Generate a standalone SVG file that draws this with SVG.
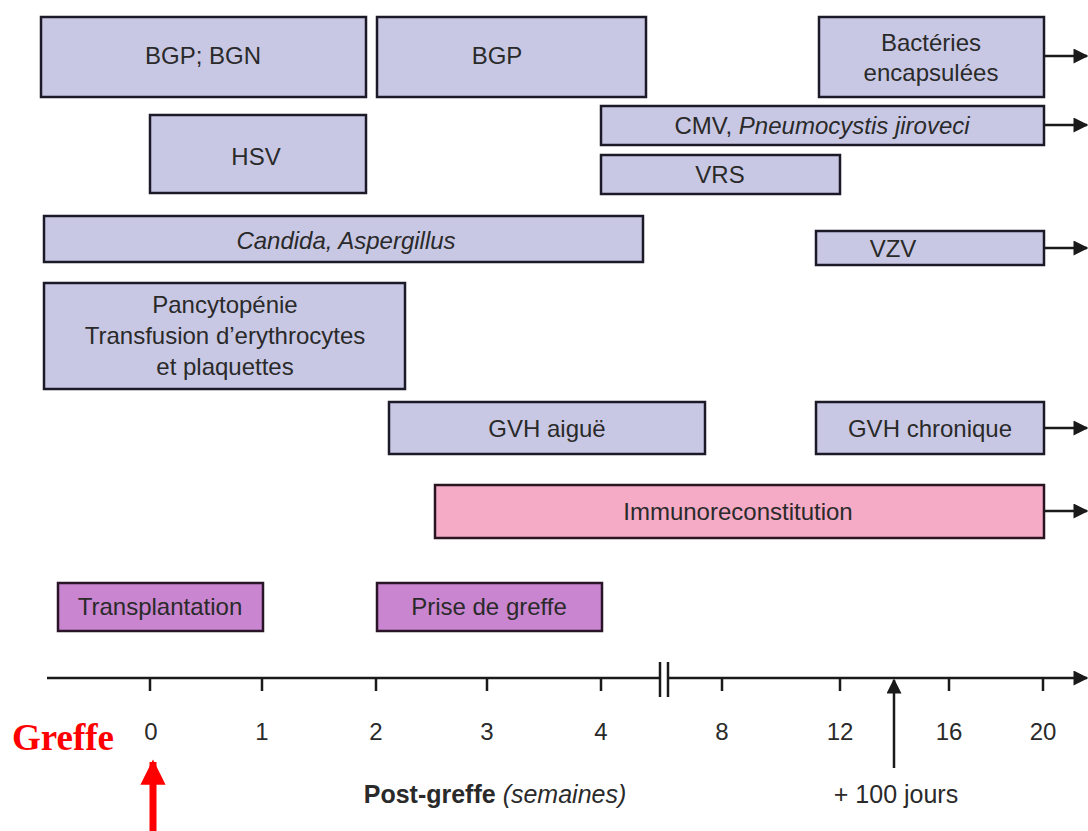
<svg xmlns="http://www.w3.org/2000/svg" width="1088" height="831" viewBox="0 0 1088 831">
<defs>
<style>
.box{fill:#c9c8e4;stroke:#1c1a28;stroke-width:2.5}
.pink{fill:#f5aac6;stroke:#2a1420;stroke-width:2.5}
.purple{fill:#c985cf;stroke:#2a1428;stroke-width:2.5}
.t{font-family:"Liberation Sans",Arial,sans-serif;font-size:24px;fill:#2a2a2a;text-anchor:middle}
.i{font-style:italic}
.ax{stroke:#1a1a1a;stroke-width:2.5;fill:none}
.tk{font-family:"Liberation Sans",Arial,sans-serif;font-size:24px;fill:#2a2a2a;text-anchor:middle}
</style>
<marker id="ah" viewBox="0 0 10 10" refX="9" refY="5" markerWidth="6.5" markerHeight="6" orient="auto" markerUnits="strokeWidth">
<path d="M0,0 L10,5 L0,10 z" fill="#1a1a1a"/>
</marker>
<marker id="rh" viewBox="0 0 10 10" refX="9" refY="5" markerWidth="4.2" markerHeight="3.6" orient="auto" markerUnits="strokeWidth">
<path d="M0,0 L10,5 L0,10 z" fill="#ff0000"/>
</marker>
</defs>
<rect width="1088" height="831" fill="#ffffff"/>
<g id="bgp-bgn"><rect class="box" x="41" y="17" width="325" height="80"/><text class="t" x="203" y="64">BGP; BGN</text></g>
<g id="bgp"><rect class="box" x="377" y="17" width="269" height="80"/><text class="t" x="497" y="64">BGP</text></g>
<g id="bacteries"><rect class="box" x="819" y="17" width="225" height="80"/><text class="t" x="931" y="51">Bactéries</text><text class="t" x="931" y="81">encapsulées</text></g>
<g id="hsv"><rect class="box" x="150" y="115" width="216" height="78"/><text class="t" x="256" y="165">HSV</text></g>
<g id="cmv"><rect class="box" x="601" y="106" width="443" height="39"/><text class="t" x="822" y="134">CMV, <tspan class="i">Pneumocystis jiroveci</tspan></text></g>
<g id="vrs"><rect class="box" x="601" y="155" width="239" height="39"/><text class="t" x="720" y="183">VRS</text></g>
<g id="candida"><rect class="box" x="44" y="216" width="599" height="46"/><text class="t i" x="346" y="249">Candida, Aspergillus</text></g>
<g id="vzv"><rect class="box" x="816" y="231" width="228" height="34"/><text class="t" x="893" y="257">VZV</text></g>
<g id="pancytopenie"><rect class="box" x="44" y="283" width="361" height="106"/><text class="t" x="225" y="313">Pancytopénie</text><text class="t" x="225" y="344">Transfusion d’erythrocytes</text><text class="t" x="225" y="375">et plaquettes</text></g>
<g id="gvh-aigue"><rect class="box" x="389" y="402" width="316" height="52"/><text class="t" x="547" y="437">GVH aiguë</text></g>
<g id="gvh-chronique"><rect class="box" x="816" y="402" width="228" height="52"/><text class="t" x="930" y="437">GVH chronique</text></g>
<g id="immuno"><rect class="pink" x="435" y="485" width="609" height="53"/><text class="t" x="738" y="520">Immunoreconstitution</text></g>
<g id="transplantation"><rect class="purple" x="58" y="583" width="205" height="48"/><text class="t" x="160" y="615">Transplantation</text></g>
<g id="prise"><rect class="purple" x="377" y="583" width="225" height="48"/><text class="t" x="489" y="615">Prise de greffe</text></g>
<g id="connectors">
<line class="ax" x1="1044" y1="56" x2="1087" y2="56" marker-end="url(#ah)"/>
<line class="ax" x1="1044" y1="125" x2="1087" y2="125" marker-end="url(#ah)"/>
<line class="ax" x1="1044" y1="248" x2="1087" y2="248" marker-end="url(#ah)"/>
<line class="ax" x1="1044" y1="428" x2="1087" y2="428" marker-end="url(#ah)"/>
<line class="ax" x1="1044" y1="511" x2="1087" y2="511" marker-end="url(#ah)"/>
</g>
<g id="axis">
<line class="ax" x1="47" y1="678" x2="660" y2="678"/>
<line class="ax" x1="668" y1="678" x2="1087" y2="678" marker-end="url(#ah)"/>
<line class="ax" x1="660" y1="662" x2="660" y2="697"/>
<line class="ax" x1="668" y1="662" x2="668" y2="697"/>
<path class="ax" d="M150,678V691M262,678V691M376,678V691M487,678V691M601,678V691M722,678V691M840,678V691M949,678V691M1043,678V691"/>
<text class="tk" x="151" y="740">0</text>
<text class="tk" x="262" y="740">1</text>
<text class="tk" x="376" y="740">2</text>
<text class="tk" x="487" y="740">3</text>
<text class="tk" x="601" y="740">4</text>
<text class="tk" x="722" y="740">8</text>
<text class="tk" x="840" y="740">12</text>
<text class="tk" x="949" y="740">16</text>
<text class="tk" x="1043" y="740">20</text>
<line class="ax" x1="894" y1="768" x2="894" y2="680" marker-end="url(#ah)"/>
<text class="tk" x="896" y="803" style="font-size:25px">+ 100 jours</text>
<text x="495" y="803" style="font-family:'Liberation Sans',Arial,sans-serif;font-size:25px;font-weight:bold;fill:#2a2a2a;text-anchor:middle">Post-greffe <tspan font-style="italic" font-weight="normal">(semaines)</tspan></text>
</g>
<g id="greffe">
<text x="12" y="750" style="font-family:'Liberation Serif','Times New Roman',serif;font-size:37px;font-weight:bold;fill:#ff0000">Greffe</text>
<line x1="153" y1="831" x2="153" y2="762" stroke="#ff0000" stroke-width="7" marker-end="url(#rh)"/>
</g>
</svg>
